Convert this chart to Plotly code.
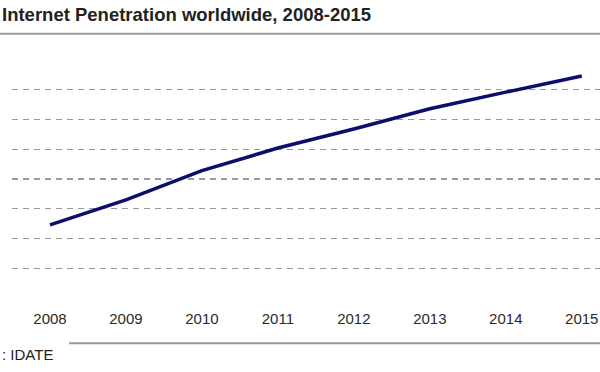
import plotly.graph_objects as go

years = [2008, 2009, 2010, 2011, 2012, 2013, 2014, 2015]
penetration = [22.3, 26.5, 31.4, 35.2, 38.4, 41.8, 44.6, 47.3]
grid_vals = [15, 20, 25, 30, 35, 40, 45]
title_text = "Internet Penetration worldwide, 2008-2015"
source_text = ": IDATE"

W, H = 600, 372
ML, MR, MT, MB = 12, 0, 59.5, 74
PW, PH = W - ML - MR, H - MT - MB

def px(x):
    return (x - ML) / PW

def py(y):
    return (H - MB - y) / PH

fig = go.Figure()
fig.add_trace(go.Scatter(
    x=years, y=penetration, mode="lines",
    line=dict(color="#0d0d6b", width=3.5),
    hoverinfo="skip", showlegend=False,
))

fig.update_layout(
    width=W, height=H,
    margin=dict(l=ML, r=MR, t=MT, b=MB, pad=0),
    paper_bgcolor="white", plot_bgcolor="white",
    font=dict(family="Liberation Sans, Arial, sans-serif", color="#222"),
    xaxis=dict(
        range=[2007.5, 2015.24], tickmode="array", tickvals=years,
        ticktext=[str(y) for y in years], showgrid=False, zeroline=False,
        showline=False, ticks="outside", ticklen=7, tickcolor="rgba(0,0,0,0)",
        tickfont=dict(size=15, color="#2a2a2a"),
    ),
    yaxis=dict(
        range=[10, 50], tickmode="array", tickvals=grid_vals,
        showticklabels=False, showgrid=True, gridcolor="#9a9a9a", gridwidth=1.2,
        griddash="6px,5px", zeroline=False, showline=False,
    ),
    shapes=[
        dict(type="line", xref="paper", yref="paper",
             x0=px(0), x1=px(600), y0=py(33.3), y1=py(33.3),
             line=dict(color="#9a9a9a", width=2)),
        dict(type="line", xref="paper", yref="paper",
             x0=px(69), x1=px(600), y0=py(343.3), y1=py(343.3),
             line=dict(color="#9a9a9a", width=2)),
    ],
    annotations=[
        dict(text="<b>" + title_text + "</b>", xref="paper", yref="paper",
             x=px(0), y=py(13.5), xanchor="left", yanchor="middle",
             showarrow=False, font=dict(size=18.5, color="#222")),
        dict(text=source_text, xref="paper", yref="paper",
             x=px(0), y=py(355), xanchor="left", yanchor="middle",
             showarrow=False, font=dict(size=15, color="#222")),
    ],
)

fig.write_html(
    "out.html",
    config={"displayModeBar": False, "staticPlot": True},
    post_script="document.body.style.margin='0';document.body.style.overflow='hidden';",
)
